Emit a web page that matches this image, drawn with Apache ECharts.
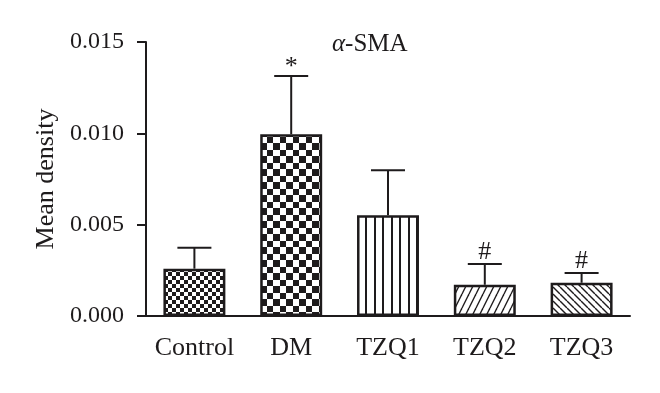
<!DOCTYPE html>
<html>
<head>
<meta charset="utf-8">
<script src="https://cdn.jsdelivr.net/npm/echarts@6/dist/echarts.min.js"></script>
<style>html,body{margin:0;padding:0;background:#fff}#c{width:660px;height:393px}</style>
</head>
<body>
<div id="c"></div>
<script>
const categories = ['Control', 'DM', 'TZQ1', 'TZQ2', 'TZQ3'];
const meanValues = [0.00259, 0.00995, 0.00551, 0.00171, 0.00182];
const sdValues = [0.00115, 0.00319, 0.00247, 0.00114, 0.00053];
const marks = ['', '*', '', '#', '#'];
const yTicks = [0, 0.005, 0.010, 0.015];
const patternTypes = ['checkSmall', 'checkLarge', 'vertical', 'diagUp', 'diagDown'];

const INK = '#1e1b1c';
const FONT = '"Liberation Serif", "Times New Roman", serif';

function makePattern(type) {
  const c = document.createElement('canvas');
  let ctx;
  if (type === 'checkSmall') {
    c.width = 8; c.height = 8; ctx = c.getContext('2d');
    ctx.fillStyle = '#fff'; ctx.fillRect(0, 0, 8, 8);
    ctx.fillStyle = INK; ctx.fillRect(0, 0, 4, 4); ctx.fillRect(4, 4, 4, 4);
  } else if (type === 'checkLarge') {
    c.width = 13; c.height = 13; ctx = c.getContext('2d');
    ctx.fillStyle = '#fff'; ctx.fillRect(0, 0, 13, 13);
    ctx.fillStyle = INK; ctx.fillRect(0, 0, 7, 7); ctx.fillRect(7, 7, 6, 6);
  } else if (type === 'vertical') {
    c.width = 17; c.height = 4; ctx = c.getContext('2d');
    ctx.fillStyle = '#fff'; ctx.fillRect(0, 0, 17, 4);
    ctx.fillStyle = INK; ctx.fillRect(0, 0, 2, 4); ctx.fillRect(8, 0, 2, 4);
  } else if (type === 'diagUp') {
    const w = 7, h = 14;
    c.width = w; c.height = h; ctx = c.getContext('2d');
    ctx.fillStyle = '#fff'; ctx.fillRect(0, 0, w, h);
    ctx.strokeStyle = INK; ctx.lineWidth = 1.4;
    for (const dx of [-w, 0, w]) {
      ctx.beginPath(); ctx.moveTo(dx, h); ctx.lineTo(dx + w, 0); ctx.stroke();
    }
  } else {
    const w = 7, h = 7;
    c.width = w; c.height = h; ctx = c.getContext('2d');
    ctx.fillStyle = '#fff'; ctx.fillRect(0, 0, w, h);
    ctx.strokeStyle = INK; ctx.lineWidth = 1.4;
    for (const dx of [-w, 0, w]) {
      ctx.beginPath(); ctx.moveTo(dx, 0); ctx.lineTo(dx + w, h); ctx.stroke();
    }
  }
  return { image: c, repeat: 'repeat' };
}

const barData = meanValues.map((v, i) => ({
  value: v,
  itemStyle: { color: makePattern(patternTypes[i]) }
}));

const errData = meanValues.map((v, i) => [i, v, v + sdValues[i], marks[i]]);

const chart = echarts.init(document.getElementById('c'), null, { renderer: 'canvas' });
chart.setOption({
  animation: false,
  backgroundColor: '#fff',
  title: {
    text: '{a|α}-SMA',
    left: 327, top: 27,
    textStyle: {
      fontFamily: FONT, fontSize: 25, fontWeight: 'normal', color: INK,
      rich: { a: { fontFamily: FONT, fontSize: 25, fontStyle: 'italic', color: INK } }
    }
  },
  grid: { left: 146, right: 30, top: 42, bottom: 77 },
  xAxis: {
    type: 'category',
    data: categories,
    axisLine: { lineStyle: { color: INK, width: 2 } },
    axisTick: { alignWithLabel: true, length: 9, lineStyle: { color: INK, width: 2 } },
    axisLabel: { interval: 0, margin: 19, color: INK, fontFamily: FONT, fontSize: 26 }
  },
  yAxis: {
    type: 'value',
    min: yTicks[0], max: yTicks[yTicks.length - 1], interval: 0.005,
    name: 'Mean density',
    nameLocation: 'middle',
    nameGap: 87,
    nameTextStyle: { color: INK, fontFamily: FONT, fontSize: 26 },
    splitLine: { show: false },
    axisLine: { show: true, lineStyle: { color: INK, width: 2 } },
    axisTick: { show: true, length: 9, lineStyle: { color: INK, width: 2 } },
    axisLabel: {
      margin: 22, color: INK, fontFamily: FONT, fontSize: 24,
      formatter: v => v.toFixed(3)
    }
  },
  series: [
    {
      type: 'bar',
      data: barData,
      barWidth: '64%',
      itemStyle: { borderColor: INK, borderWidth: 2.5 },
      z: 3
    },
    {
      type: 'custom',
      data: errData,
      z: 2,
      renderItem: function (params, api) {
        const i = api.value(0);
        const base = api.coord([i, api.value(1)]);
        const top = api.coord([i, api.value(2)]);
        const half = 17;
        const children = [
          { type: 'line', shape: { x1: top[0], y1: base[1], x2: top[0], y2: top[1] }, style: { stroke: INK, lineWidth: 2 } },
          { type: 'line', shape: { x1: top[0] - half, y1: top[1], x2: top[0] + half, y2: top[1] }, style: { stroke: INK, lineWidth: 2 } }
        ];
        const m = errData[params.dataIndex][3];
        if (m) {
          const off = m === '*' ? 4 : 1;
          children.push({
            type: 'text',
            style: {
              text: m, x: top[0], y: top[1] + off,
              align: 'center', verticalAlign: 'bottom',
              fontFamily: FONT, fontSize: 26, fill: INK
            }
          });
        }
        return { type: 'group', children: children };
      }
    }
  ]
});
</script>
</body>
</html>
